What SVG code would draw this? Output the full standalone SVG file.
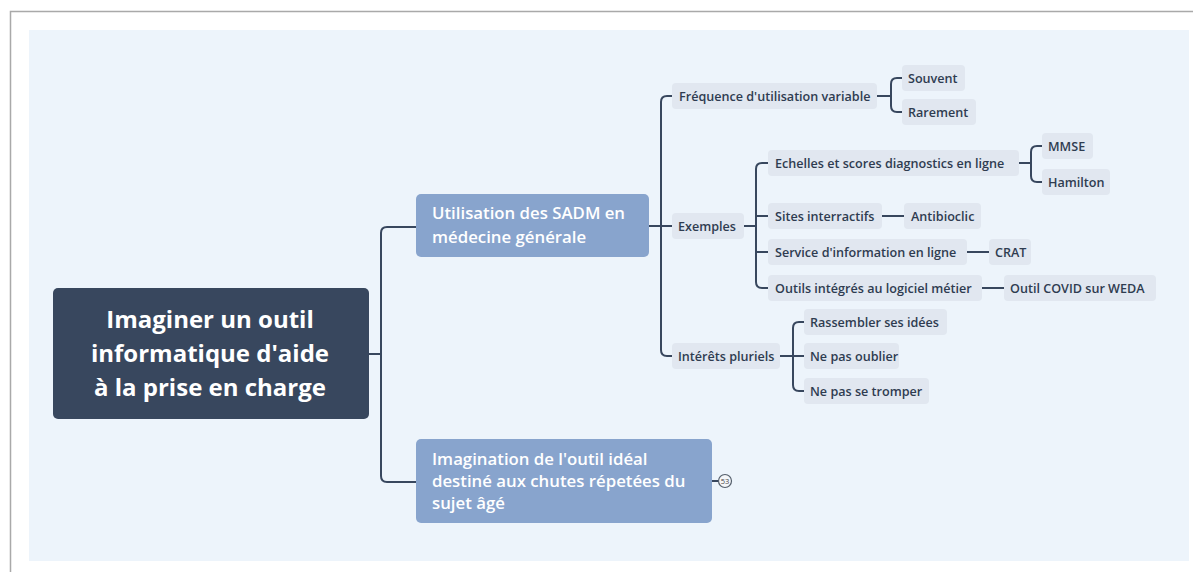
<svg xmlns="http://www.w3.org/2000/svg" width="1196" height="572" viewBox="0 0 1196 572">
<style>
.t{font-family:"Open Sans","Liberation Sans",sans-serif;}
.root{fill:#38475e;}
.rt{fill:#ffffff;font-size:24px;font-weight:700;text-anchor:middle;}
.main{fill:#88a4cd;}
.mt{fill:#ffffff;font-size:16.8px;font-weight:600;}
.sub{fill:#e1e7f0;}
.st{fill:#2f3c50;font-size:12.6px;font-weight:600;}
.c{fill:none;stroke:#38475e;stroke-width:2;stroke-linecap:round;stroke-linejoin:round;}
</style>
<rect x="0" y="0" width="1196" height="572" fill="#ffffff"/>
<path d="M10.5 572 V11.5 H1193" fill="none" stroke="#a9a9a9" stroke-width="1.5"/>
<rect x="29" y="30" width="1160" height="531" fill="#edf4fb"/>

<g id="connectors">
<path class="c" d="M369 354 H381"/>
<path class="c" d="M416 227 H387 Q381 227 381 233 V476 Q381 482 387 482 H416"/>
<path class="c" d="M649 226 H672"/>
<path class="c" d="M672 96 H667 Q661 96 661 102 V350 Q661 356 667 356 H672"/>
<path class="c" d="M877 96 H891"/>
<path class="c" d="M902 78 H897 Q891 78 891 84 V106 Q891 112 897 112 H902"/>
<path class="c" d="M744 226 H756"/>
<path class="c" d="M768 163 H762 Q756 163 756 169 V282 Q756 288 762 288 H768"/>
<path class="c" d="M756 216 H768"/>
<path class="c" d="M756 252 H768"/>
<path class="c" d="M1019 163 H1031"/>
<path class="c" d="M1042 146 H1037 Q1031 146 1031 152 V176 Q1031 182 1037 182 H1042"/>
<path class="c" d="M882 216 H904"/>
<path class="c" d="M967 252 H989"/>
<path class="c" d="M982 288 H1004"/>
<path class="c" d="M780 356 H804"/>
<path class="c" d="M804 322 H799 Q793 322 793 328 V385 Q793 391 799 391 H804"/>
<path class="c" d="M712 481 H718"/>
</g>

<g id="root">
<rect class="root" x="53" y="288" width="316" height="131" rx="5"/>
<text class="t rt" x="210" y="328">Imaginer un outil</text>
<text class="t rt" x="210" y="362">informatique d'aide</text>
<text class="t rt" x="210" y="396">à la prise en charge</text>
</g>

<g id="sadm">
<rect class="main" x="416" y="194" width="233" height="63" rx="5"/>
<text class="t mt" x="432" y="219">Utilisation des SADM en</text>
<text class="t mt" x="432" y="243">médecine générale</text>
</g>

<g id="imagination">
<rect class="main" x="416" y="439" width="296" height="84" rx="5"/>
<text class="t mt" x="432" y="465">Imagination de l'outil idéal</text>
<text class="t mt" x="432" y="487">destiné aux chutes répetées du</text>
<text class="t mt" x="432" y="509">sujet âgé</text>
</g>

<g id="badge53">
<circle cx="725" cy="481" r="6.5" fill="#f4f6f9" stroke="#555f6c" stroke-width="1.2"/>
<text class="t" x="725" y="484" font-size="7.5" fill="#444" text-anchor="middle">53</text>
</g>

<g id="frequence">
<rect class="sub" x="672" y="83" width="205" height="26" rx="4"/>
<text class="t st" x="679" y="100.5">Fréquence d'utilisation variable</text>
</g>
<g id="souvent">
<rect class="sub" x="902" y="65" width="63" height="26" rx="4"/>
<text class="t st" x="908" y="82.5">Souvent</text>
</g>
<g id="rarement">
<rect class="sub" x="902" y="99" width="74" height="26" rx="4"/>
<text class="t st" x="908" y="116.5">Rarement</text>
</g>

<g id="exemples">
<rect class="sub" x="672" y="213" width="72" height="26" rx="4"/>
<text class="t st" x="678" y="230.5">Exemples</text>
</g>
<g id="echelles">
<rect class="sub" x="768" y="150" width="251" height="26" rx="4"/>
<text class="t st" x="775" y="167.5">Echelles et scores diagnostics en ligne</text>
</g>
<g id="mmse">
<rect class="sub" x="1042" y="133" width="51" height="26" rx="4"/>
<text class="t st" x="1048" y="150.5">MMSE</text>
</g>
<g id="hamilton">
<rect class="sub" x="1042" y="169" width="68" height="26" rx="4"/>
<text class="t st" x="1048" y="186.5">Hamilton</text>
</g>
<g id="sites">
<rect class="sub" x="768" y="203" width="114" height="26" rx="4"/>
<text class="t st" x="775" y="220.5">Sites interractifs</text>
</g>
<g id="antibioclic">
<rect class="sub" x="904" y="203" width="77" height="26" rx="4"/>
<text class="t st" x="911" y="220.5">Antibioclic</text>
</g>
<g id="service">
<rect class="sub" x="768" y="239" width="199" height="26" rx="4"/>
<text class="t st" x="775" y="256.5">Service d'information en ligne</text>
</g>
<g id="crat">
<rect class="sub" x="989" y="239" width="42" height="26" rx="4"/>
<text class="t st" x="995" y="256.5">CRAT</text>
</g>
<g id="outils">
<rect class="sub" x="768" y="275" width="214" height="26" rx="4"/>
<text class="t st" x="775" y="292.5">Outils intégrés au logiciel métier</text>
</g>
<g id="covid">
<rect class="sub" x="1004" y="275" width="152" height="26" rx="4"/>
<text class="t st" x="1010" y="292.5">Outil COVID sur WEDA</text>
</g>

<g id="interets">
<rect class="sub" x="672" y="343" width="108" height="26" rx="4"/>
<text class="t st" x="678" y="360.5">Intérêts pluriels</text>
</g>
<g id="rassembler">
<rect class="sub" x="804" y="309" width="143" height="26" rx="4"/>
<text class="t st" x="810" y="326.5">Rassembler ses idées</text>
</g>
<g id="oublier">
<rect class="sub" x="804" y="343" width="95" height="26" rx="4"/>
<text class="t st" x="810" y="360.5">Ne pas oublier</text>
</g>
<g id="tromper">
<rect class="sub" x="804" y="378" width="125" height="26" rx="4"/>
<text class="t st" x="810" y="395.5">Ne pas se tromper</text>
</g>
</svg>
